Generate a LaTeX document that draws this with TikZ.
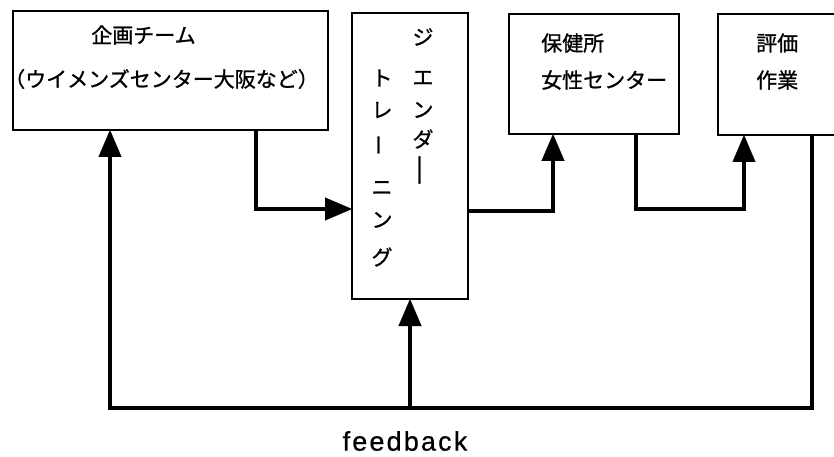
\documentclass[tikz,border=0pt]{standalone}
\usepackage{fontspec}
\setmainfont{Liberation Sans}
\newfontfamily\cjk[FakeBold=1]{Noto Sans CJK JP}
\newfontfamily\fbfont[LetterSpace=8,FakeBold=0.6]{Liberation Sans}
\usetikzlibrary{arrows.meta}
\begin{document}
\begin{tikzpicture}[x=1pt,y=-1pt,
  box/.style={draw, line width=2.2pt, inner sep=0pt, outer sep=0pt, rectangle},
  jp/.style={font=\cjk\fontsize{21}{21}\selectfont, inner sep=0pt},
  conn/.style={line width=4pt, line join=miter},
  tip/.style={-{Triangle[length=27pt,width=23pt,line width=0.1pt]}}]
\useasboundingbox (0,0) rectangle (834,457);
\clip (0,0) rectangle (834,457);
% boxes
\node[box, minimum width=315pt, minimum height=119pt] (A) at (170.5,70.5) {};
\node[box, minimum width=116pt, minimum height=286pt] (B) at (410,156) {};
\node[box, minimum width=170pt, minimum height=120pt] (C) at (594,74) {};
\node[box, minimum width=170pt, minimum height=121pt] (D) at (803,74.5) {};
% texts
\node[jp] (a1) at (143.5,35) {企画チーム};
\node[jp, anchor=west] (a2) at (4,79) {（ウイメンズセンター大阪など）};
\node[jp, anchor=west] (c1) at (541,43) {保健所};
\node[jp, anchor=west] (c2) at (541,80) {女性センター};
\node[jp, anchor=west] (d1) at (756,43) {評価};
\node[jp, anchor=west] (d2) at (756,80) {作業};
% vertical text in B
\node[jp] (r1) at (423,37) {ジ};
\node[jp] (r2) at (423,78) {エ};
\node[jp] (r3) at (423,110) {ン};
\node[jp] (r4) at (423,139) {ダ};
\node[jp, rotate=90, xscale=1.6] (r5) at (423,170) {ー};
\node[jp] (l1) at (382,78) {ト};
\node[jp] (l2) at (382,110) {レ};
\node[jp, rotate=90] (l3) at (382,145) {ー};
\node[jp] (l4) at (382,188) {ニ};
\node[jp] (l5) at (382,220) {ン};
\node[jp] (l6) at (382,257) {グ};
% feedback label
\node[font=\fbfont\fontsize{27}{27}\selectfont, inner sep=0pt] (fb) at (405,441) {feedback};
% connectors
\draw[conn, tip] (A.south -| 256,0) |- (B.west |- 0,209);
\draw[conn, tip] (B.east |- 0,211) -| (C.south -| 553,0);
\draw[conn, tip] (C.south -| 636,0) |- (744,209) -- (D.south -| 744,0);
\coordinate (fj) at (410,408);
\draw[conn, tip] (D.south -| 812,0) |- (110,408) -- (A.south -| 110,0);
\draw[conn, tip] (fj) -- (B.south);
\end{tikzpicture}
\end{document}
